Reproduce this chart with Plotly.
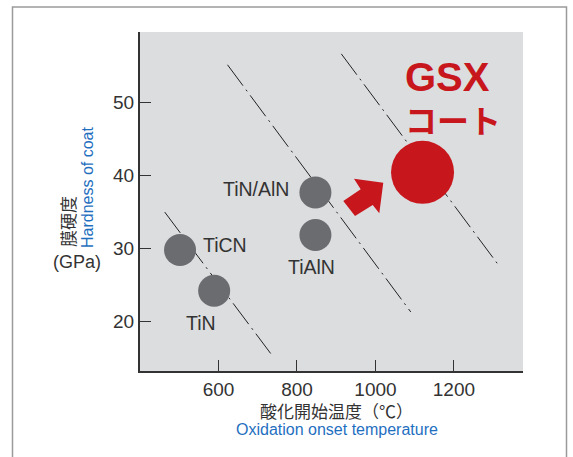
import plotly.graph_objects as go

# ---- data ----
coat_names = ["TiCN", "TiN", "TiN/AlN", "TiAlN"]
coat_temp = [502, 589, 847, 847]          # oxidation onset temperature (°C)
coat_hard = [29.8, 24.2, 37.7, 31.85]     # hardness (GPa)

gsx_name = "GSX"
gsx_temp = [1120]
gsx_hard = [40.45]

# dash-dot guide lines (start/end in data units)
guide_x = [[463, 733], [623, 1090], [913, 1314]]
guide_y = [[35.0, 15.6], [55.2, 21.3], [56.7, 27.7]]

x_ticks = [600, 800, 1000, 1200]
y_ticks = [20, 30, 40, 50]

# ---- layout constants ----
W, H = 573, 457
ML, MR, MT, MB = 140, 50, 32, 86
PW, PH = W - ML - MR, H - MT - MB


def px(x):
    return (x - ML) / PW


def py(y):
    return (H - MB - y) / PH


GRAY_DOT = "#6b6c70"
RED = "#c8161d"
BLUE = "#1f6fbf"
TXT = "#333333"
LAT = "Liberation Sans, Arial, Noto Sans CJK JP, sans-serif"
JP = "Noto Sans CJK JP, sans-serif"

fig = go.Figure()

for gx, gy in zip(guide_x, guide_y):
    fig.add_trace(go.Scatter(
        x=gx, y=gy, mode="lines",
        line=dict(color="#222222", width=1, dash="26px,5px,2px,5px"),
        hoverinfo="skip", showlegend=False))

fig.add_trace(go.Scatter(
    x=coat_temp, y=coat_hard, mode="markers",
    marker=dict(size=32, color=GRAY_DOT, line=dict(width=0)),
    showlegend=False))

fig.add_trace(go.Scatter(
    x=gsx_temp, y=gsx_hard, mode="markers",
    marker=dict(size=63, color=RED, line=dict(width=0)),
    showlegend=False))

# point labels: (xanchor, xshift, yshift)
label_pos = {
    "TiCN": ("left", 21, 5),
    "TiN": ("center", -13, -32),
    "TiN/AlN": ("right", -24, 3),
    "TiAlN": ("center", -4, -32),
}
annotations = []
for name, tx, hy in zip(coat_names, coat_temp, coat_hard):
    xa, xs, ys = label_pos[name]
    annotations.append(dict(
        x=tx, y=hy, xref="x", yref="y", text=name, showarrow=False,
        xanchor=xa, yanchor="middle", xshift=xs, yshift=ys,
        font=dict(family=LAT, size=19.5, color=TXT)))

gsx_label = (
    "<b><span style='font-family:Liberation Sans, Arial, sans-serif;font-size:40px'>"
    + gsx_name + "</span></b><br><b>コート</b>"
)
annotations.append(dict(
    x=gsx_temp[0], y=gsx_hard[0], xref="x", yref="y",
    text=gsx_label, showarrow=False, xanchor="left", yanchor="middle", align="left",
    xshift=-20, yshift=74, font=dict(family=JP, size=32, color=RED)))

# axis titles
annotations += [
    dict(x=px(336), y=py(411), xref="paper", yref="paper", text="酸化開始温度（℃）",
         showarrow=False, xanchor="center", yanchor="middle",
         font=dict(family=JP, size=17, color=TXT)),
    dict(x=px(337), y=py(430), xref="paper", yref="paper",
         text="Oxidation onset temperature",
         showarrow=False, xanchor="center", yanchor="middle",
         font=dict(family=LAT, size=16, color=BLUE)),
    dict(x=px(67), y=py(222), xref="paper", yref="paper", text="膜硬度",
         textangle=-90, showarrow=False, xanchor="center", yanchor="middle",
         font=dict(family=JP, size=17, color=TXT)),
    dict(x=px(87), y=py(187), xref="paper", yref="paper", text="Hardness of coat",
         textangle=-90, showarrow=False, xanchor="center", yanchor="middle",
         font=dict(family=LAT, size=16, color=BLUE)),
    dict(x=px(77), y=py(262), xref="paper", yref="paper", text="(GPa)",
         showarrow=False, xanchor="center", yanchor="middle",
         font=dict(family=LAT, size=18, color=TXT)),
]

# block arrow (pixel outline -> paper)
arrow_px = [(383.3, 182.7), (354, 178.7), (360.7, 189.3), (343.3, 201),
            (355, 216), (372.7, 205), (379.3, 213.3)]
path = "M " + " L ".join(f"{px(a):.4f},{py(b):.4f}" for a, b in arrow_px) + " Z"

shapes = [
    dict(type="path", path=path, xref="paper", yref="paper",
         fillcolor=RED, line=dict(width=0), layer="above"),
    dict(type="rect", xref="paper", yref="paper",
         x0=px(12.5), x1=px(566.5), y0=py(470), y1=py(7),
         line=dict(color="#9a9a9a", width=1.5), fillcolor="rgba(0,0,0,0)",
         layer="below"),
]

fig.update_layout(
    width=W, height=H,
    margin=dict(l=ML, r=MR, t=MT, b=MB),
    paper_bgcolor="white", plot_bgcolor="#dcdddf",
    showlegend=False,
    annotations=annotations, shapes=shapes,
    xaxis=dict(range=[400, 1376], tickvals=x_ticks, showgrid=False, zeroline=False,
               showline=True, linecolor=TXT, linewidth=2,
               ticks="inside", ticklen=11, tickwidth=1.3, tickcolor=TXT,
               tickfont=dict(family=LAT, size=19, color=TXT)),
    yaxis=dict(range=[13.2, 59.7], tickvals=y_ticks, showgrid=False, zeroline=False,
               showline=True, linecolor=TXT, linewidth=2,
               ticks="inside", ticklen=11, tickwidth=1.3, tickcolor=TXT,
               tickfont=dict(family=LAT, size=19, color=TXT)),
)

fig.write_html("out.html")
